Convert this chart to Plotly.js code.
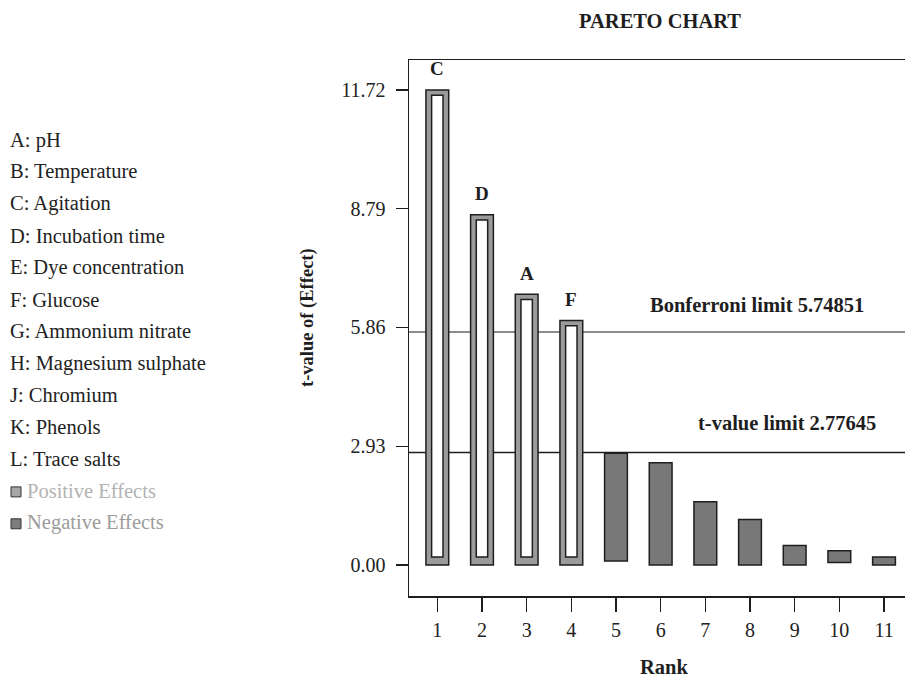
<!DOCTYPE html>
<html>
<head>
<meta charset="utf-8">
<script src="https://cdn.plot.ly/plotly-3.0.1.min.js"></script>
<style>html,body{margin:0;padding:0;background:#fff;}#chart{width:905px;height:678px;}</style>
</head>
<body>
<div id="chart"></div>
<script>
// ---- data ----
const ranks = [1, 2, 3, 4, 5, 6, 7, 8, 9, 10, 11];
const tValues = [11.72, 8.64, 6.68, 6.03, 2.76, 2.52, 1.56, 1.12, 0.48, 0.35, 0.20];
const barBases = [0, 0, 0, 0, 0.10, 0, 0, 0, 0, 0.06, 0];
const effectSign = ['+', '+', '+', '+', '-', '-', '-', '-', '-', '-', '-'];
const barLetters = ['C', 'D', 'A', 'F', '', '', '', '', '', '', ''];
const factorLabels = ['A: pH', 'B: Temperature', 'C: Agitation', 'D: Incubation time',
  'E: Dye concentration', 'F: Glucose', 'G: Ammonium nitrate', 'H: Magnesium sulphate',
  'J: Chromium', 'K: Phenols', 'L: Trace salts'];
const legendLabels = ['Positive Effects', 'Negative Effects'];
const yTickVals = [0, 2.93, 5.86, 8.79, 11.72];
const bonferroniLimit = 5.74851;
const tValueLimit = 2.77645;

// ---- layout helpers (pixel -> paper) ----
const L = 409, R = 905, T = 60, B = 596;
const px = x => (x - L) / (R - L);
const py = y => (B - y) / (B - T);
const FONT = 'Liberation Serif, Times New Roman, serif';
const DARK = '#1e1e1e';

const posIdx = ranks.map((r, i) => i).filter(i => effectSign[i] === '+');
const negIdx = ranks.map((r, i) => i).filter(i => effectSign[i] === '-');

const ringTop = 0.13, ringBottom = 0.2;

const traces = [
  { // positive effects outer (gray ring)
    type: 'bar', x: posIdx.map(i => ranks[i]), y: posIdx.map(i => tValues[i] - barBases[i]),
    base: posIdx.map(i => barBases[i]), width: 0.51,
    marker: { color: '#9b9b9b', line: { color: DARK, width: 1.5 } }, hoverinfo: 'x+y', showlegend: false
  },
  { // positive effects inner (white)
    type: 'bar', x: posIdx.map(i => ranks[i]),
    y: posIdx.map(i => tValues[i] - ringTop - ringBottom),
    base: posIdx.map(i => ringBottom), width: 0.255,
    marker: { color: '#ffffff', line: { color: DARK, width: 1.5 } }, hoverinfo: 'skip', showlegend: false
  },
  { // negative effects
    type: 'bar', x: negIdx.map(i => ranks[i]), y: negIdx.map(i => tValues[i] - barBases[i]),
    base: negIdx.map(i => barBases[i]), width: 0.51,
    marker: { color: '#787878', line: { color: DARK, width: 1.5 } }, hoverinfo: 'x+y', showlegend: false
  }
];

const annotations = [];
ranks.forEach((r, i) => {
  if (barLetters[i]) annotations.push({
    x: r, y: tValues[i], xref: 'x', yref: 'y', text: '<b>' + barLetters[i] + '</b>',
    showarrow: false, yshift: 21, yanchor: 'middle', xanchor: 'center',
    font: { family: FONT, size: 19, color: DARK }
  });
});
factorLabels.forEach((t, i) => annotations.push({
  x: px(8), y: py(140 + 31.9 * i), xref: 'paper', yref: 'paper', text: t,
  showarrow: false, xanchor: 'left', yanchor: 'middle',
  font: { family: FONT, size: 20.5, color: '#222' }
}));
const legendColors = ['#b3b3b3', '#9c9c9c'];
const legendFill = ['#a6a6a6', '#7d7d7d'];
legendLabels.forEach((t, i) => annotations.push({
  x: px(24.5), y: py(140 + 31.9 * (11 + i)), xref: 'paper', yref: 'paper', text: t,
  showarrow: false, xanchor: 'left', yanchor: 'middle',
  font: { family: FONT, size: 20.5, color: legendColors[i] }
}));
annotations.push({
  x: px(757), y: py(305), xref: 'paper', yref: 'paper', text: '<b>Bonferroni limit ' + bonferroniLimit + '</b>',
  showarrow: false, xanchor: 'center', yanchor: 'middle', font: { family: FONT, size: 20.5, color: DARK }
});
annotations.push({
  x: px(787), y: py(423), xref: 'paper', yref: 'paper', text: '<b>t-value limit ' + tValueLimit + '</b>',
  showarrow: false, xanchor: 'center', yanchor: 'middle', font: { family: FONT, size: 20.5, color: DARK }
});
annotations.push({
  x: px(307), y: py(318), xref: 'paper', yref: 'paper', text: '<b>t-value of (Effect)</b>', textangle: -90,
  showarrow: false, xanchor: 'center', yanchor: 'middle', font: { family: FONT, size: 18.5, color: DARK }
});
annotations.push({
  x: px(664), y: py(667), xref: 'paper', yref: 'paper', text: '<b>Rank</b>',
  showarrow: false, xanchor: 'center', yanchor: 'middle', font: { family: FONT, size: 20.5, color: DARK }
});

const shapes = [
  { type: 'line', xref: 'paper', x0: 0, x1: 1, yref: 'y', y0: bonferroniLimit, y1: bonferroniLimit,
    line: { color: '#8c8c8c', width: 2 }, layer: 'below' },
  { type: 'line', xref: 'paper', x0: 0, x1: 1, yref: 'y', y0: tValueLimit, y1: tValueLimit,
    line: { color: DARK, width: 1.5 }, layer: 'below' }
];
legendFill.forEach((c, i) => {
  const cy = 140 + 31.9 * (11 + i) + 1;
  shapes.push({ type: 'rect', xref: 'paper', yref: 'paper', x0: px(11), x1: px(21), y0: py(cy - 5), y1: py(cy + 5),
    fillcolor: c, line: { color: '#333', width: 1 } });
});

const layout = {
  width: 905, height: 678,
  margin: { l: L, r: 905 - R, t: T, b: 678 - B, pad: 0 },
  paper_bgcolor: '#fff', plot_bgcolor: '#fff',
  barmode: 'overlay',
  showlegend: false,
  title: { text: '<b>PARETO CHART</b>', x: 660 / 905, xref: 'container', xanchor: 'center',
    y: 1 - 21 / 678, yref: 'container', yanchor: 'middle', font: { family: FONT, size: 20.5, color: DARK } },
  xaxis: {
    range: [0.366, 11.47], tickvals: ranks, ticktext: ranks.map(String),
    showgrid: false, zeroline: false, showline: true, mirror: true, linecolor: DARK, linewidth: 1.5,
    ticks: 'outside', ticklen: 14, tickwidth: 1.2, tickcolor: DARK, ticklabelstandoff: 1,
    tickfont: { family: FONT, size: 20, color: '#222' }
  },
  yaxis: {
    range: [-0.765, 12.46], tickvals: yTickVals, ticktext: yTickVals.map(v => v.toFixed(2)),
    showgrid: false, zeroline: false, showline: true, mirror: false, linecolor: DARK, linewidth: 1.5,
    ticks: 'outside', ticklen: 12, tickwidth: 1.2, tickcolor: DARK, ticklabelstandoff: 6,
    tickfont: { family: FONT, size: 20, color: '#222' }
  },
  annotations: annotations,
  shapes: shapes
};

Plotly.newPlot('chart', traces, layout, { displayModeBar: false, staticPlot: true });
</script>
</body>
</html>
